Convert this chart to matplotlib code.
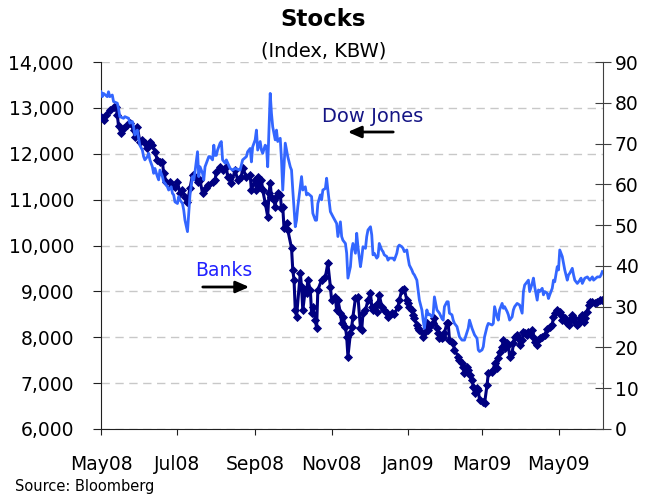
import matplotlib
matplotlib.use('Agg')
import matplotlib.pyplot as plt
import pandas as pd

start = pd.Timestamp('2008-05-01')
tick_dates = ['2008-05-01', '2008-07-01', '2008-09-01', '2008-11-01',
              '2009-01-01', '2009-03-01', '2009-05-01']
tick_labels = ['May08', 'Jul08', 'Sep08', 'Nov08', 'Jan09', 'Mar09', 'May09']
left_ticks = list(range(6000, 14001, 1000))
right_ticks = list(range(0, 91, 10))

# Dow Jones (left axis): day offset from 1 May 2008, index level
dow_day = [0, 2, 4, 7, 10, 12, 13, 14, 16, 18, 21, 23, 26, 27, 29, 31, 33, 35, 37, 39,
           41, 43, 45, 47, 49, 50, 52, 55, 57, 59, 61, 63, 65, 67, 69, 71, 73, 75, 77, 79,
           81, 84, 85, 89, 91, 92, 95, 97, 100, 101, 103, 104, 107, 109, 112, 113, 116, 119, 120, 123,
           124, 125, 127, 128, 129, 131, 133, 134, 135, 136, 138, 139, 140, 141, 143, 144, 145, 146, 148, 149,
           152, 153, 154, 155, 156, 159, 160, 161, 163, 164, 165, 167, 168, 169, 171, 172, 173, 176, 179, 181,
           183, 184, 187, 188, 189, 191, 192, 193, 195, 196, 197, 199, 200, 201, 203, 205, 207, 208, 209, 211,
           213, 215, 216, 217, 218, 220, 221, 222, 224, 226, 228, 229, 232, 234, 237, 238, 240, 242, 244, 245,
           246, 248, 249, 250, 252, 253, 254, 257, 258, 260, 261, 262, 265, 266, 268, 269, 270, 272, 273, 274,
           276, 277, 278, 280, 281, 282, 285, 286, 288, 289, 290, 292, 293, 294, 296, 297, 298, 300, 301, 302,
           305, 306, 308, 309, 312, 313, 314, 316, 317, 318, 320, 321, 322, 324, 325, 326, 328, 329, 330, 332,
           333, 334, 336, 337, 338, 340, 341, 342, 344, 345, 346, 348, 349, 350, 352, 354, 356, 358, 360, 361,
           362, 364, 366, 367, 368, 370, 372, 373, 374, 376, 377, 378, 380, 381, 382, 384, 385, 386, 388, 389,
           390, 392, 394, 396, 398, 400]
dow_value = [12808, 12736, 12850, 12950, 13020, 13025, 12850, 12600, 12450, 12560, 12630, 12670, 12520, 12370, 12590, 12260, 12300, 12230, 12120, 12250,
             12200, 12045, 11860, 11830, 11810, 11580, 11390, 11390, 11300, 11280, 11390, 11140, 11200, 11065, 10955, 11250, 11540, 11500, 11390, 11420,
             11140, 11250, 11320, 11390, 11420, 11610, 11720, 11650, 11720, 11500, 11500, 11360, 11645, 11430, 11500, 11690, 11500, 11540, 11210, 11430,
             11210, 11500, 11280, 11430, 11210, 10930, 10630, 11140, 11360, 11065, 11000, 10850, 11065, 11140, 11100, 10820, 10850, 10380, 10490, 10340,
             9945, 9465, 9250, 8590, 8450, 9400, 9100, 8590, 9040, 8970, 9250, 9030, 8530, 8670, 8380, 8200, 9030, 9250, 9320, 9610,
             9100, 8810, 8870, 8590, 8810, 8530, 8310, 8450, 8230, 8010, 7580, 8090, 8230, 8450, 8850, 8880, 8200, 8160, 8530, 8590,
             8810, 8960, 8670, 8590, 8650, 8555, 8740, 8920, 8670, 8590, 8530, 8450, 8530, 8500, 8670, 8810, 9030, 9045, 8810, 8740,
             8670, 8590, 8480, 8410, 8270, 8200, 8160, 8010, 8090, 8310, 8160, 8230, 8310, 8410, 8200, 8090, 7990, 7990, 8010, 8090,
             8310, 8310, 7940, 7900, 7870, 7720, 7580, 7500, 7440, 7360, 7220, 7360, 7290, 7180, 7070, 6920, 6780, 6890, 6850, 6630,
             6595, 6560, 6960, 7215, 7250, 7290, 7430, 7320, 7540, 7685, 7790, 7940, 7760, 7870, 7830, 7580, 7650, 7870, 8010, 8050,
             7980, 7830, 7940, 8120, 8090, 8050, 8120, 8090, 8160, 8010, 7900, 7830, 7940, 7980, 8010, 8050, 8190, 8230, 8270, 8450,
             8520, 8590, 8550, 8480, 8380, 8420, 8300, 8270, 8380, 8480, 8410, 8340, 8270, 8300, 8410, 8480, 8340, 8410, 8560, 8700,
             8775, 8775, 8750, 8775, 8810, 8810]

# Banks, KBW index (right axis)
kbw_day = [0, 1, 2, 5, 6, 7, 9, 10, 13, 14, 15, 18, 19, 22, 23, 25, 26, 27, 29, 30,
           31, 33, 34, 35, 37, 38, 39, 41, 42, 43, 45, 46, 47, 49, 50, 51, 53, 54, 56, 57,
           58, 59, 61, 62, 63, 65, 66, 67, 69, 70, 71, 73, 74, 75, 77, 78, 79, 81, 82, 83,
           85, 86, 87, 89, 90, 91, 92, 93, 95, 96, 97, 99, 100, 103, 105, 107, 111, 113, 116, 117,
           119, 120, 121, 123, 124, 125, 127, 128, 129, 131, 132, 133, 135, 136, 137, 139, 140, 141, 143, 144,
           145, 147, 148, 149, 151, 152, 153, 155, 156, 157, 160, 161, 163, 164, 165, 168, 169, 171, 172, 173,
           175, 176, 177, 179, 180, 181, 183, 185, 188, 189, 191, 192, 193, 195, 196, 197, 199, 200, 201, 203,
           204, 205, 207, 208, 209, 211, 212, 213, 215, 216, 217, 218, 220, 221, 222, 224, 225, 226, 228, 229,
           230, 233, 234, 236, 237, 238, 240, 241, 242, 244, 245, 246, 248, 249, 250, 252, 253, 254, 256, 257,
           258, 260, 261, 262, 264, 265, 266, 268, 269, 270, 272, 273, 274, 276, 277, 278, 280, 281, 282, 284,
           285, 286, 288, 290, 293, 294, 296, 297, 298, 300, 301, 302, 304, 305, 306, 308, 309, 312, 313, 314,
           316, 317, 318, 320, 321, 322, 324, 325, 326, 328, 329, 330, 332, 334, 336, 337, 338, 340, 341, 342,
           344, 345, 346, 348, 349, 350, 352, 353, 354, 356, 357, 358, 360, 361, 362, 364, 365, 366, 368, 369,
           370, 372, 373, 374, 376, 377, 378, 380, 382, 383, 384, 386, 388, 390, 392, 393, 396, 398, 399, 400]
kbw_value = [82.7, 81.5, 82.3, 81.5, 82.7, 81.5, 81.9, 80.3, 79.9, 78.6, 76.6, 76.2, 76.6, 76.2, 75.0, 75.4, 74.1, 72.1, 73.3, 71.3,
             69.6, 68.4, 66.8, 66.0, 66.8, 67.6, 66.0, 64.3, 62.7, 63.9, 61.9, 61.1, 63.5, 61.9, 60.6, 60.3, 59.4, 58.6, 59.4, 57.8,
             57.4, 55.7, 55.3, 57.0, 56.2, 55.3, 53.7, 51.2, 48.4, 52.9, 57.4, 61.9, 61.1, 63.1, 68.0, 61.9, 64.3, 62.7, 61.1, 64.3,
             66.0, 66.8, 66.8, 66.0, 69.6, 67.1, 67.1, 68.4, 70.1, 70.5, 66.0, 65.2, 66.0, 63.9, 63.5, 63.9, 63.5, 66.0, 66.8, 68.0,
             68.8, 65.5, 69.2, 70.9, 73.3, 68.4, 70.5, 68.4, 67.6, 69.6, 69.2, 64.3, 82.3, 77.4, 74.1, 70.9, 73.3, 70.5, 71.3, 66.0,
             58.6, 70.1, 68.4, 66.8, 64.3, 63.5, 58.6, 49.6, 51.2, 54.5, 61.9, 58.6, 59.4, 57.4, 57.8, 57.0, 52.9, 51.2, 51.2, 55.3,
             57.4, 56.2, 58.6, 59.0, 61.5, 58.6, 53.3, 52.1, 50.4, 47.2, 50.8, 47.2, 46.3, 45.5, 43.1, 37.0, 39.8, 43.9, 45.5, 43.1,
             48.0, 44.7, 39.8, 41.9, 44.7, 44.3, 47.2, 48.8, 49.6, 47.6, 42.7, 43.1, 41.9, 42.3, 45.5, 43.9, 43.5, 42.7, 42.3, 41.4,
             41.9, 41.9, 41.4, 43.1, 44.7, 45.1, 44.7, 44.3, 43.5, 43.9, 41.9, 40.2, 39.0, 38.2, 37.8, 36.5, 34.1, 31.6, 29.2, 26.7,
             24.7, 29.2, 28.0, 28.2, 27.5, 28.2, 32.4, 29.2, 28.8, 28.4, 27.1, 26.7, 30.0, 31.2, 31.2, 28.4, 28.0, 26.7, 25.9, 25.1,
             23.9, 22.6, 21.8, 21.8, 24.7, 26.7, 24.7, 23.9, 23.1, 22.2, 19.4, 19.0, 19.4, 20.2, 22.6, 25.1, 25.9, 25.5, 25.9, 30.0,
             27.5, 26.7, 29.2, 30.8, 29.6, 30.0, 28.8, 28.0, 26.7, 27.5, 29.2, 30.0, 30.8, 30.4, 28.4, 33.7, 35.3, 36.1, 36.5, 33.7,
             35.7, 37.0, 34.9, 31.6, 34.1, 33.7, 34.5, 32.9, 33.7, 33.3, 32.0, 32.9, 34.5, 36.5, 36.1, 39.8, 39.0, 43.9, 42.3, 40.6,
             39.0, 36.5, 37.8, 38.2, 39.4, 37.8, 36.5, 35.7, 36.5, 37.0, 35.7, 37.0, 37.3, 36.5, 37.3, 36.5, 37.3, 37.3, 37.8, 38.6]

plt.rcParams['font.family'] = ['DejaVu Sans']

W, H = 647, 500
fig = plt.figure(figsize=(W / 100, H / 100), dpi=100)
ax = fig.add_axes([101 / W, 1 - 429 / H, (603 - 101) / W, (429 - 62) / H])
ax2 = ax.twinx()

ax.plot(dow_day, dow_value, color='#000080', lw=2.2, marker='D', ms=3.8,
        markeredgewidth=0.6, zorder=3)
ax2.plot(kbw_day, kbw_value, color='#3366ff', lw=2.0, zorder=3)

ax.set_xlim(0, 400.5)
ax.set_ylim(6000, 14000)
ax2.set_ylim(0, 90)

xt = [(pd.Timestamp(d) - start).days for d in tick_dates]
ax.set_xticks(xt)
ax.set_xticklabels(tick_labels)
ax.set_yticks(left_ticks)
ax.set_yticklabels([f'{v:,}' for v in left_ticks])
ax2.set_yticks(right_ticks)
ax2.set_yticklabels([str(v) for v in right_ticks])

ax.yaxis.grid(True, linestyle=(0, (6, 4)), color='#c8c8c8', lw=1)
ax.set_axisbelow(True)

for a in (ax, ax2):
    a.spines['top'].set_visible(False)
ax.spines['right'].set_visible(False)
ax2.spines['left'].set_visible(False)
ax2.spines['bottom'].set_visible(False)
ax.spines['left'].set_color('#202020')
ax.spines['bottom'].set_color('#202020')
ax2.spines['right'].set_color('#404040')

ax.tick_params(axis='y', direction='out', length=5.5, pad=14, labelsize=13.5, color='#202020')
ax.tick_params(axis='x', direction='out', length=4.5, pad=14, labelsize=13.5, color='#202020')
ax2.tick_params(axis='y', direction='inout', length=11, pad=3, labelsize=13.5, color='#404040')

fig.text(0.5, 1 - 20 / H, 'Stocks', ha='center', va='center', fontsize=16.5, fontweight='bold')
fig.text(0.5, 1 - 51 / H, '(Index, KBW)', ha='center', va='center', fontsize=14)
fig.text(15 / W, 1 - 487 / H, 'Source: Bloomberg', ha='left', va='center', fontsize=10.5)

ax.text(373 / W, 1 - 117 / H, 'Dow Jones', transform=fig.transFigure, ha='center', va='center',
        fontsize=14, color='#151585')
ax.annotate('', xy=(345 / W, 1 - 132 / H), xytext=(396 / W, 1 - 132 / H),
            xycoords='figure fraction', textcoords='figure fraction',
            arrowprops=dict(arrowstyle='-|>,head_length=0.8,head_width=0.35', color='black', lw=2))
ax.text(224 / W, 1 - 271 / H, 'Banks', transform=fig.transFigure, ha='center', va='center',
        fontsize=13.5, color='#2222ff')
ax.annotate('', xy=(252 / W, 1 - 287 / H), xytext=(200 / W, 1 - 287 / H),
            xycoords='figure fraction', textcoords='figure fraction',
            arrowprops=dict(arrowstyle='-|>,head_length=0.8,head_width=0.35', color='black', lw=2))

fig.savefig('out.png', dpi=100)
